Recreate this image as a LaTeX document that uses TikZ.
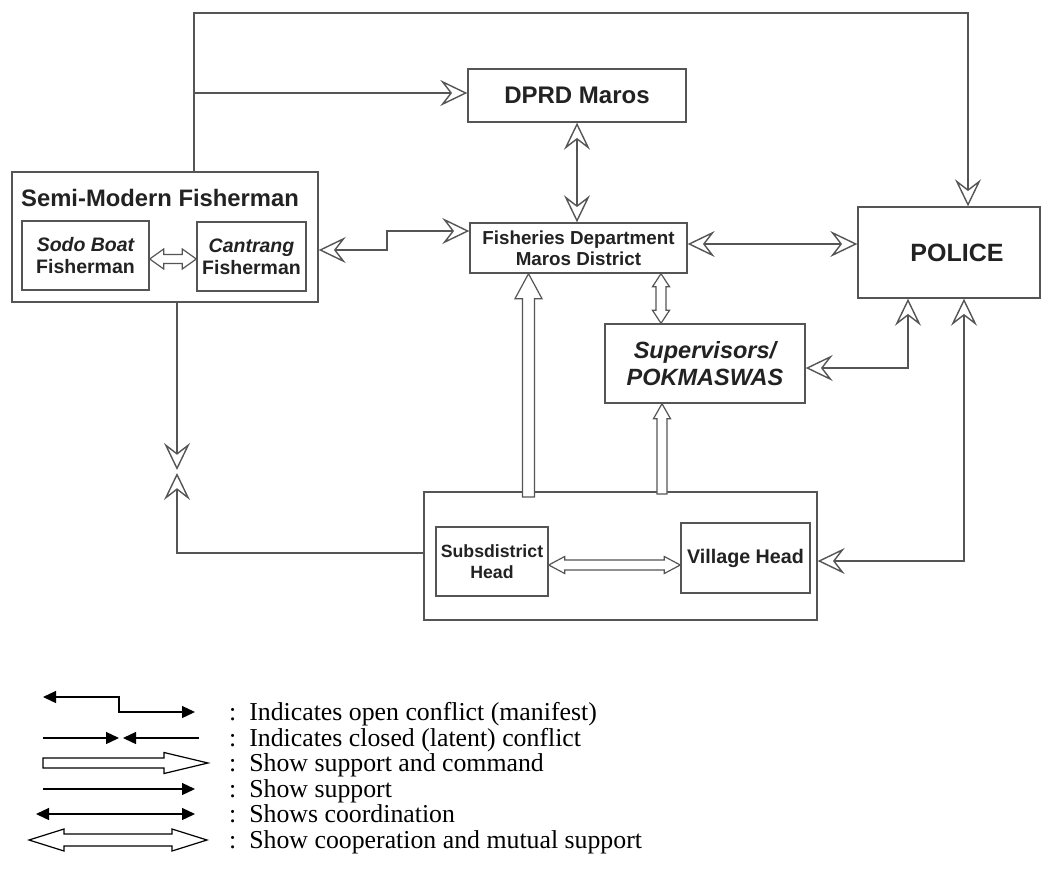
\documentclass[tikz,border=0pt]{standalone}
\usepackage{fontspec}
\setmainfont{Liberation Serif}
\newfontfamily\arialf{Liberation Sans}
\usetikzlibrary{arrows.meta,calc}
\definecolor{linec}{HTML}{555555}
\definecolor{textc}{HTML}{222222}
\newcommand{\myfs}[2]{\fontsize{#1}{#2}\selectfont}
\tikzset{
  box/.style={draw=linec, line width=1.4pt, inner sep=0pt, text=textc, align=center},
  conn/.style={draw=linec, line width=1.4pt},
  hollowshape/.style={draw=linec, line width=1.2pt, fill=white, line join=miter},
  leghollow/.style={draw=black, line width=1.2pt, fill=white, line join=miter},
  leg/.style={draw=black, line width=1.3pt},
  legtxt/.style={anchor=base west, inner sep=0pt, font=\myfs{25.8}{30}},
}
% single hollow arrow from #2 to #3 (tip), shaft half width #4, head half width #5, head length #6
\newcommand{\hollowone}[6][hollowshape]{%
  \draw[#1] let \p1=(#2), \p2=(#3), \n1={veclen(\x2-\x1,\y2-\y1)},
    \n2={(\x2-\x1)/\n1}, \n3={(\y2-\y1)/\n1} in
    ({\x1-#4*\n3},{\y1+#4*\n2})
    -- ({\x2-#6*\n2-#4*\n3},{\y2-#6*\n3+#4*\n2})
    -- ({\x2-#6*\n2-#5*\n3},{\y2-#6*\n3+#5*\n2})
    -- (\x2,\y2)
    -- ({\x2-#6*\n2+#5*\n3},{\y2-#6*\n3-#5*\n2})
    -- ({\x2-#6*\n2+#4*\n3},{\y2-#6*\n3-#4*\n2})
    -- ({\x1+#4*\n3},{\y1-#4*\n2}) -- cycle;}
% double hollow arrow between #2 and #3
\newcommand{\hollowtwo}[6][hollowshape]{%
  \draw[#1] let \p1=(#2), \p2=(#3), \n1={veclen(\x2-\x1,\y2-\y1)},
    \n2={(\x2-\x1)/\n1}, \n3={(\y2-\y1)/\n1} in
    (\x1,\y1)
    -- ({\x1+#6*\n2-#5*\n3},{\y1+#6*\n3+#5*\n2})
    -- ({\x1+#6*\n2-#4*\n3},{\y1+#6*\n3+#4*\n2})
    -- ({\x2-#6*\n2-#4*\n3},{\y2-#6*\n3+#4*\n2})
    -- ({\x2-#6*\n2-#5*\n3},{\y2-#6*\n3+#5*\n2})
    -- (\x2,\y2)
    -- ({\x2-#6*\n2+#5*\n3},{\y2-#6*\n3-#5*\n2})
    -- ({\x2-#6*\n2+#4*\n3},{\y2-#6*\n3-#4*\n2})
    -- ({\x1+#6*\n2+#4*\n3},{\y1+#6*\n3-#4*\n2})
    -- ({\x1+#6*\n2+#5*\n3},{\y1+#6*\n3-#5*\n2}) -- cycle;}
\begin{document}
\begin{tikzpicture}[x=1pt,y=-1pt,
  >={Stealth[open,length=27pt,width=26pt,inset=10pt]}]
\useasboundingbox (0,0) rectangle (1053,873);
\fill[white] (0,0) rectangle (1053,873);

% ---------- boxes ----------
\node[box, minimum width=306pt, minimum height=130pt] (semi) at (165,237) {};
\node[anchor=west, inner sep=0pt, text=textc, font=\arialf\bfseries\myfs{23.8}{28}] (semititle) at (21,198) {Semi-Modern Fisherman};
\node[box, minimum width=127pt, minimum height=69pt, font=\arialf\bfseries\myfs{19.5}{22}] (sodo) at (85.5,255.5) {\itshape Sodo Boat\\Fisherman};
\node[box, minimum width=109pt, minimum height=69pt, font=\arialf\bfseries\myfs{19.5}{22}] (cant) at (251.5,256.5) {\itshape Cantrang\\Fisherman};
\node[box, minimum width=218pt, minimum height=53pt, font=\arialf\bfseries\myfs{24}{28}] (dprd) at (577,95.5) {DPRD Maros};
\node[box, minimum width=217pt, minimum height=50pt, font=\arialf\bfseries\myfs{18.8}{21}] (fish) at (578.5,248) {Fisheries Department\\Maros District};
\node[box, minimum width=182pt, minimum height=91pt, font=\arialf\bfseries\myfs{25}{28}] (police) at (949,252.5) {\hspace{16pt}POLICE};
\node[box, minimum width=200pt, minimum height=79pt, font=\arialf\bfseries\itshape\myfs{23.5}{27}] (sup) at (705,363.5) {Supervisors/\\POKMASWAS};
\node[box, minimum width=393pt, minimum height=128pt] (bottom) at (620.5,556) {};
\node[box, minimum width=112pt, minimum height=69pt, font=\arialf\bfseries\myfs{17.7}{21}] (subd) at (492,561.5) {Subsdistrict\\Head};
\node[box, minimum width=129pt, minimum height=70pt, font=\arialf\bfseries\myfs{19.7}{22}] (vill) at (745.5,558) {Village Head};

% ---------- connectors ----------
\coordinate (tl) at (194,13);
\coordinate (tr) at (968,13);
\draw[conn,->] (tl |- semi.north) -- (tl) -- (tr) -- (tr |- police.north);
\coordinate (br) at (194,93);
\draw[conn,->] (br) -- (br -| dprd.west);
\draw[conn,<->] (dprd.south) -- (dprd.south |- fish.north);
\coordinate (fp) at (770,244);
\draw[conn,<->] (fish.east |- fp) -- (police.west |- fp);
\coordinate (sfa) at (387,250);
\coordinate (sfb) at (387,231);
\draw[conn,<->] (semi.east |- sfa) -- (sfa) -- (sfb) -- (fish.west |- sfb);
\coordinate (sp) at (908,368);
\draw[conn,<->] (sup.east |- sp) -- (sp) -- (sp |- police.south);
\coordinate (pv) at (964,561);
\draw[conn,<->] (bottom.east |- pv) -- (pv) -- (pv |- police.south);
\coordinate (lv) at (177,553);
\coordinate (mA) at (177,470);
\coordinate (mB) at (177,473);
\draw[conn,->] (lv |- semi.south) -- (mA);
\draw[conn,->] (bottom.west |- lv) -- (lv) -- (mB);

% ---------- hollow arrows ----------
\coordinate (h1) at (528.5,497);
\hollowone{h1}{h1 |- fish.south}{6}{13.5}{25}
\coordinate (h2) at (662,494);
\hollowone{h2}{h2 |- sup.south}{5}{8.5}{15}
\coordinate (h3) at (661,0);
\hollowtwo{h3 |- fish.south}{h3 |- sup.north}{5}{8.5}{13}
\coordinate (h4) at (0,259);
\hollowtwo{sodo.east |- h4}{cant.west |- h4}{4.5}{10}{14}
\coordinate (h5) at (0,565);
\hollowtwo{subd.east |- h5}{vill.west |- h5}{5}{8.5}{16}

% ---------- legend ----------
\tikzset{lt/.tip={Triangle[length=13pt,width=12pt]}}
\coordinate (l1a) at (43,697);
\coordinate (l1b) at (119,697);
\coordinate (l1c) at (119,712);
\coordinate (l1d) at (195,712);
\draw[leg,{lt}-{lt}] (l1a) -- (l1b) -- (l1c) -- (l1d);
\node[legtxt] (t1) at (229,720.5) {:\hspace{13pt}Indicates open conflict (manifest)};

\coordinate (l2a) at (43,738);
\coordinate (l2b) at (119,738);
\coordinate (l2c) at (123,738);
\coordinate (l2d) at (199,738);
\draw[leg,-{lt}] (l2a) -- (l2b);
\draw[leg,-{lt}] (l2d) -- (l2c);
\node[legtxt] (t2) at (229,746.5) {:\hspace{13pt}Indicates closed (latent) conflict};

\coordinate (l3a) at (43,763);
\coordinate (l3b) at (208,763);
\hollowone[leghollow]{l3a}{l3b}{5}{10.5}{44}
\node[legtxt] (t3) at (229,771.5) {:\hspace{13pt}Show support and command};

\coordinate (l4a) at (43,789);
\coordinate (l4b) at (195,789);
\draw[leg,-{lt}] (l4a) -- (l4b);
\node[legtxt] (t4) at (229,797.5) {:\hspace{13pt}Show support};

\coordinate (l5a) at (36,814);
\coordinate (l5b) at (195,814);
\draw[leg,{lt}-{lt}] (l5a) -- (l5b);
\node[legtxt] (t5) at (229,822.5) {:\hspace{13pt}Shows coordination};

\coordinate (l6a) at (29,840);
\coordinate (l6b) at (207,840);
\hollowtwo[leghollow]{l6a}{l6b}{6}{11}{35}
\node[legtxt] (t6) at (229,848.5) {:\hspace{13pt}Show cooperation and mutual support};
\end{tikzpicture}
\end{document}
